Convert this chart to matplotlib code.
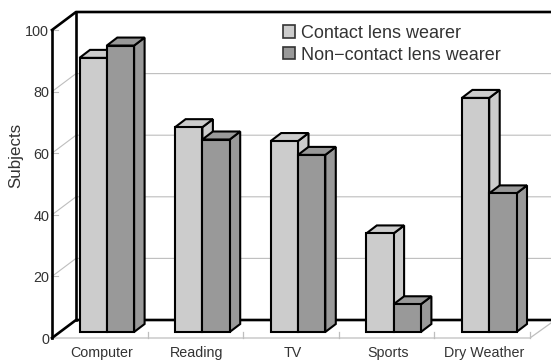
import matplotlib
matplotlib.use("Agg")
import matplotlib.pyplot as plt
from matplotlib.patches import Polygon, Rectangle

categories = ["Computer", "Reading", "TV", "Sports", "Dry Weather"]
contact = [89, 66.5, 62, 32, 76]
non_contact = [93, 62.5, 57.5, 9, 45]
series_names = ["Contact lens wearer", "Non\u2212contact lens wearer"]
y_ticks = [0, 20, 40, 60, 80, 100]

W, H = 551, 361
X0, X1 = 52, 530      # front floor edge, pixels
Y0, Y100 = 338, 30    # front wall edge, pixels
PX = (X1 - X0) / 5
PY = (Y0 - Y100) / 100

plt.rcParams["font.family"] = ["Liberation Sans", "DejaVu Sans"]
fig = plt.figure(figsize=(W / 100, H / 100), dpi=100)
ax = fig.add_axes([X0 / W, (H - Y0) / H, (X1 - X0) / W, (Y0 - Y100) / H])
ax.set_xlim(0, 5)
ax.set_ylim(0, 100)
ax.axis("off")

LIGHT, DARK = "#CCCCCC", "#999999"
GRID = "#BEBEBE"
TEXT = "#333333"
LW = 1.5

# Depth of the chart box and of each bar, in data units
DX, DY = 24 / PX, 18 / PY
BX, BY = 7 / PX, DY / 3          # gap between front edge and bar face
CX, CY = 10.5 / PX, 8 / PY       # bar depth
BW = 27.3 / PX


def line(xs, ys, **kw):
    ax.plot(xs, ys, clip_on=False, solid_capstyle="projecting", **kw)


# Grid on the side wall and the back wall
for v in y_ticks[1:-1]:
    line([0, DX, 5 + DX], [v, v + DY, v + DY], color=GRID, lw=0.8, zorder=1)
for v in y_ticks[1:]:
    line([0, 6 / PX], [v, v], color=GRID, lw=0.8, zorder=1)

# Floor edge and its separators
line([0, 5, 5 + 21 / PX], [0, 0, 15 / PY], color=GRID, lw=0.9, zorder=1)
for i in range(1, 6):
    line([i, i], [0, 6 / PY], color=GRID, lw=0.9, zorder=1)

# White panel behind the legend
ax.add_patch(Rectangle((143 / PX, 94.5), 353 / PX, 17, fc="white", ec="none",
                       zorder=1.5, clip_on=False))

# Black frame of the box
frame = dict(color="black", lw=LW + 0.4, zorder=2)
line([0, 0], [0, 100], **frame)
line([DX, DX], [DY, 100 + DY], **frame)
line([0, DX, 5 + DX], [100, 100 + DY, 100 + DY], **frame)
line([0, DX, 5 + DX], [0, DY, DY], **frame)


def bar3d(left, value, color, z):
    x0, x1 = left + BX, left + BX + BW
    y0, y1 = BY, value + BY
    style = dict(fc=color, ec="black", lw=LW, joinstyle="miter", zorder=z, clip_on=False)
    ax.add_patch(Polygon([(x1, y0), (x1 + CX, y0 + CY), (x1 + CX, y1 + CY), (x1, y1)], **style))
    ax.add_patch(Polygon([(x0, y1), (x0 + CX, y1 + CY), (x1 + CX, y1 + CY), (x1, y1)], **style))
    ax.add_patch(Rectangle((x0, y0), BW, y1 - y0, **style))


for i, (a, b) in enumerate(zip(contact, non_contact)):
    center = i + 0.5
    bar3d(center - BW, a, LIGHT, 3 + i * 0.1)
    bar3d(center, b, DARK, 3.05 + i * 0.1)
    ax.text(center + 1.5 / PX, -4.9, categories[i], ha="center", va="center",
            fontsize=10.3, color=TEXT, clip_on=False)

for v in y_ticks:
    ax.text(-3 / PX, v - 0.6, str(v), ha="right", va="center", fontsize=10.4,
            color=TEXT, clip_on=False)

ax.text(-36 / PX, 59.4, "Subjects", rotation=90, ha="center", va="center",
        fontsize=12.2, color=TEXT, clip_on=False)

# Legend
handles = [Rectangle((0, 0), 1, 1, fc=LIGHT, ec="#333333", lw=1.2),
           Rectangle((0, 0), 1, 1, fc=DARK, ec="#333333", lw=1.2)]
ax.legend(handles, series_names, loc="upper left",
          bbox_to_anchor=(283 / W, (H - 25) / H), bbox_transform=fig.transFigure,
          frameon=False, fontsize=13, labelcolor=TEXT, handlelength=0.68,
          handleheight=0.68, handletextpad=0.3, labelspacing=0.25,
          borderpad=0, borderaxespad=0)

fig.savefig("out.png", dpi=100)
